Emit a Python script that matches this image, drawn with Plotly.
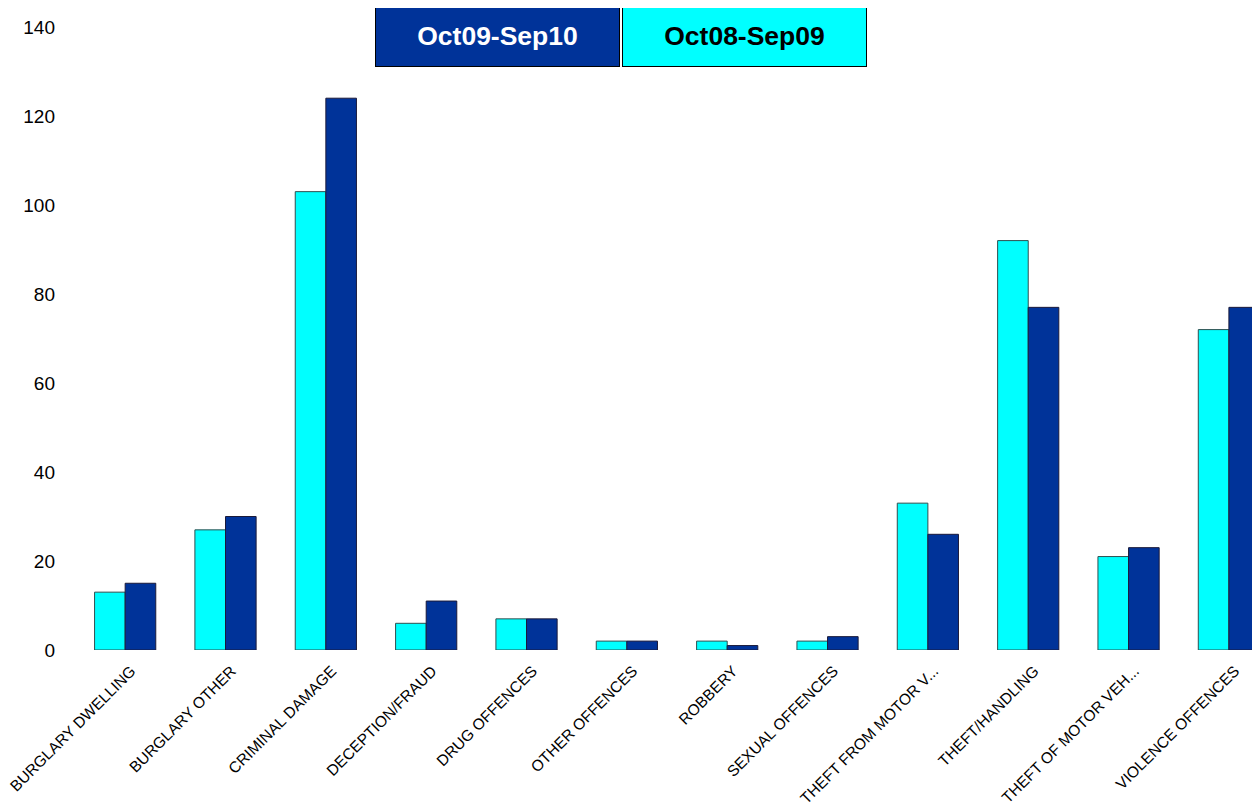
import plotly.graph_objects as go

categories = ["BURGLARY DWELLING", "BURGLARY OTHER", "CRIMINAL DAMAGE", "DECEPTION/FRAUD",
              "DRUG OFFENCES", "OTHER OFFENCES", "ROBBERY", "SEXUAL OFFENCES",
              "THEFT FROM MOTOR V...", "THEFT/HANDLING", "THEFT OF MOTOR VEH...", "VIOLENCE OFFENCES"]
oct08_sep09 = [13, 27, 103, 6, 7, 2, 2, 2, 33, 92, 21, 72]
oct09_sep10 = [15, 30, 124, 11, 7, 2, 1, 3, 26, 77, 23, 77]
y_ticks = [0, 20, 40, 60, 80, 100, 120, 140]

CYAN = "#00FFFF"
NAVY = "#003399"
FONT = "Liberation Sans, Arial, sans-serif"

PLOT_L, PLOT_T, PLOT_W, PLOT_H = 67, 19, 1185, 623

fig = go.Figure()
fig.add_trace(go.Bar(x=categories, y=oct08_sep09, name="Oct08-Sep09",
                     marker=dict(color=CYAN, line=dict(color="#2f4f4f", width=1))))
fig.add_trace(go.Bar(x=categories, y=oct09_sep10, name="Oct09-Sep10",
                     marker=dict(color=NAVY, line=dict(color="#1a1a3a", width=1))))

fig.update_layout(
    width=1252, height=800,
    margin=dict(l=PLOT_L, r=0, t=PLOT_T, b=800 - PLOT_T - PLOT_H),
    paper_bgcolor="white", plot_bgcolor="white",
    barmode="group", bargap=0.39, bargroupgap=0,
    showlegend=False,
    font=dict(family=FONT, color="black"),
    xaxis=dict(range=[-0.5, 11.31], tickangle=-45, showline=False, showgrid=False,
               ticks="", tickfont=dict(size=15.5, family=FONT), ticklabelstandoff=8,
               ticklabelshift=6, automargin=False),
    yaxis=dict(range=[0, 140], tickvals=y_ticks, showgrid=False, showline=False,
               zeroline=False, ticks="", tickfont=dict(size=19, family=FONT),
               ticklabelstandoff=19, automargin=False),
)

def px_x(x):
    return (x - 8 - PLOT_L) / PLOT_W

def px_y(y):
    return 1 - (y - 8 - PLOT_T) / PLOT_H

fig.add_annotation(xref="paper", yref="paper", x=px_x(497.5), y=px_y(36),
                   yanchor="middle", xanchor="center", showarrow=False,
                   text="<b>Oct09-Sep10</b>", font=dict(size=26.5, color="white", family=FONT),
                   bgcolor=NAVY, bordercolor="black", borderwidth=1, width=241, height=58)
fig.add_annotation(xref="paper", yref="paper", x=px_x(744.5), y=px_y(36),
                   yanchor="middle", xanchor="center", showarrow=False,
                   text="<b>Oct08-Sep09</b>", font=dict(size=26.5, color="black", family=FONT),
                   bgcolor=CYAN, bordercolor="black", borderwidth=1, width=241, height=58)

fig.write_html("out.html")
